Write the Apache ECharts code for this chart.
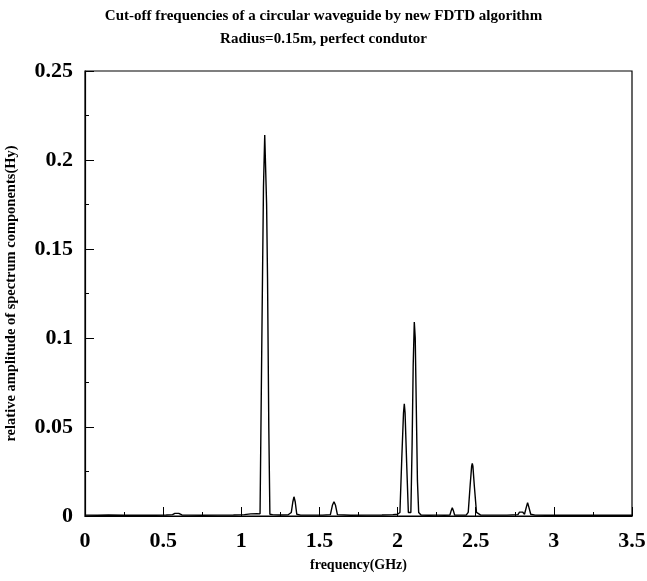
<!DOCTYPE html>
<html>
<head>
<meta charset="utf-8">
<title>Cut-off frequencies</title>
<script src="https://cdn.jsdelivr.net/npm/echarts@6/dist/echarts.min.js"></script>
<style>
  html, body { margin: 0; padding: 0; background: #fff; }
  #chart { width: 647px; height: 581px; }
</style>
</head>
<body>
<div id="chart"></div>
<script>
// frequency samples (GHz) and relative amplitude
var freq = [0, 0.08, 0.15, 0.25, 0.35, 0.45, 0.52, 0.56, 0.575, 0.587, 0.6, 0.62, 0.66, 0.75, 0.85, 0.95, 1.02, 1.06, 1.1, 1.12,
  1.128, 1.134, 1.142, 1.150, 1.155, 1.162, 1.168, 1.176, 1.183, 1.2, 1.25, 1.3, 1.32, 1.33, 1.337, 1.345, 1.355, 1.38, 1.45,
  1.52, 1.57, 1.583, 1.593, 1.603, 1.615, 1.7, 1.8, 1.9, 1.97, 2.0, 2.015, 2.028, 2.038, 2.043, 2.048, 2.058, 2.069, 2.076,
  2.085, 2.093, 2.1, 2.107, 2.113, 2.12, 2.127, 2.135, 2.15, 2.2, 2.24, 2.25, 2.26, 2.3, 2.335, 2.343, 2.35, 2.357, 2.365,
  2.4, 2.44, 2.452, 2.465, 2.474, 2.478, 2.482, 2.491, 2.505, 2.53, 2.6, 2.7, 2.77, 2.78, 2.79, 2.8, 2.812, 2.824, 2.832,
  2.84, 2.852, 2.88, 2.95, 3.1, 3.3, 3.5];
var amp = [0.0005, 0.0004, 0.0006, 0.0004, 0.0005, 0.0004, 0.0006, 0.0008, 0.0015, 0.002, 0.0015, 0.0006, 0.0005, 0.0004, 0.0005, 0.0006, 0.0008, 0.0012, 0.0013, 0.0012,
  0.002, 0.12, 0.185, 0.214, 0.214, 0.175, 0.133, 0.05, 0.001, 0.0008, 0.0006, 0.0007, 0.002, 0.008, 0.0108, 0.008, 0.001, 0.0005, 0.0005,
  0.0005, 0.0008, 0.006, 0.008, 0.006, 0.0008, 0.0004, 0.0005, 0.0006, 0.0008, 0.001, 0.002, 0.035, 0.058, 0.063, 0.058, 0.03, 0.002, 0.001,
  0.002, 0.04, 0.085, 0.109, 0.1, 0.06, 0.02, 0.002, 0.0006, 0.0004, 0.0005, 0.0012, 0.0005, 0.0004, 0.0006, 0.003, 0.0047, 0.003, 0.0006,
  0.0005, 0.0006, 0.002, 0.018, 0.028, 0.0296, 0.028, 0.017, 0.002, 0.0006, 0.0005, 0.0005, 0.0008, 0.0022, 0.0028, 0.0022, 0.001, 0.005, 0.0075,
  0.005, 0.001, 0.0005, 0.0004, 0.0004, 0.0004, 0.0004];

var xTicks = { min: 0, max: 3.5, step: 0.5 };
var yTicks = { min: 0, max: 0.25, step: 0.05 };

var points = freq.map(function (f, i) { return [f, amp[i]]; });

var chart = echarts.init(document.getElementById('chart'));
var serif = 'Liberation Serif';
var option = {
  backgroundColor: '#fff',
  animation: false,
  title: {
    text: 'Cut-off frequencies of a circular waveguide by new FDTD algorithm\nRadius=0.15m, perfect condutor',
    left: 'center',
    top: 0,
    textStyle: {
      fontFamily: serif,
      fontWeight: 'bold',
      fontSize: 15,
      lineHeight: 23,
      color: '#000'
    }
  },
  grid: {
    left: 85,
    right: 15,
    top: 71,
    bottom: 65,
    outerBoundsMode: 'none',
    show: true,
    borderColor: '#000',
    borderWidth: 1.2
  },
  xAxis: {
    type: 'value',
    min: xTicks.min,
    max: xTicks.max,
    interval: xTicks.step,
    name: 'frequency(GHz)',
    nameLocation: 'middle',
    nameGap: 42,
    nameTextStyle: { fontFamily: serif, fontWeight: 'bold', fontSize: 14, color: '#000' },
    axisLine: { lineStyle: { color: '#000', width: 1.2 } },
    axisTick: { inside: true, length: 9, lineStyle: { color: '#000' } },
    minorTick: { show: true, splitNumber: 2, length: 4, lineStyle: { color: '#000' } },
    splitLine: { show: false },
    axisLabel: {
      margin: 14,
      fontFamily: serif,
      fontWeight: 'bold',
      fontSize: 22,
      color: '#000'
    }
  },
  yAxis: {
    type: 'value',
    min: yTicks.min,
    max: yTicks.max,
    interval: yTicks.step,
    name: 'relative amplitude of spectrum components(Hy)',
    nameLocation: 'middle',
    nameGap: 66,
    nameTextStyle: { fontFamily: serif, fontWeight: 'bold', fontSize: 14.5, color: '#000' },
    axisLine: { show: true, lineStyle: { color: '#000', width: 1.2 } },
    axisTick: { show: true, inside: true, length: 9, lineStyle: { color: '#000' } },
    minorTick: { show: true, splitNumber: 2, length: 4, lineStyle: { color: '#000' } },
    splitLine: { show: false },
    axisLabel: {
      margin: 12,
      fontFamily: serif,
      fontWeight: 'bold',
      fontSize: 22,
      color: '#000'
    }
  },
  series: [
    {
      type: 'line',
      data: points,
      showSymbol: false,
      lineStyle: { color: '#000', width: 1.4 }
    }
  ]
};
chart.setOption(option);
</script>
</body>
</html>
